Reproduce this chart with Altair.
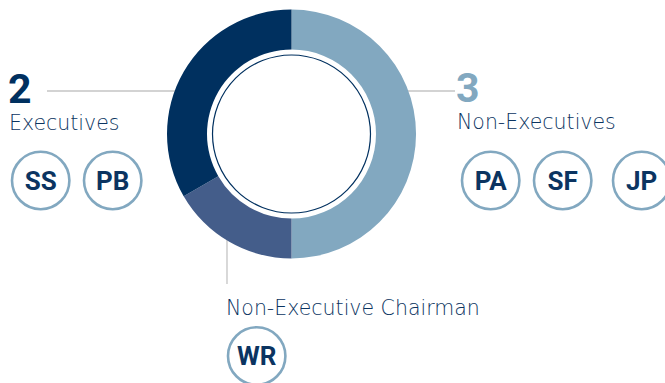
import altair as alt
import pandas as pd

# Board composition
groups = ["Non-Executives", "Non-Executive Chairman", "Executives"]
counts = [3, 1, 2]
exec_initials = ["SS", "PB"]
nonexec_initials = ["PA", "SF", "JP"]
chair_initials = ["WR"]

NAVY = "#00305f"
MID = "#445d8a"
LIGHT = "#82a8c0"
TEXT = "#0b3461"
GREY = "#c4c4c4"
FONT = "DejaVu Sans"
BOLD_FONT = "Roboto"

W, H = 665, 383
CX, CY = 291.5, 134
R_OUT, R_IN, R_LINE = 124.5, 84.5, 79
R_BADGE = 28.7

# badge centres (layout)
EXEC_X = [40.7, 112.7]
NONEXEC_X = [490.7, 562.7, 641.7]
CHAIR_X = [256.7]
ROW_Y = 180.5
CHAIR_Y = 356

donut_df = pd.DataFrame({"group": groups, "count": counts, "order": list(range(len(groups)))})

# Leader lines (drawn beneath the ring)
lines = [
    alt.Chart(pd.DataFrame({"a": [0]})).mark_rule(color=GREY, strokeWidth=1.3).encode(
        x=alt.value(47), x2=alt.value(200), y=alt.value(91)),
    alt.Chart(pd.DataFrame({"a": [0]})).mark_rule(color=GREY, strokeWidth=1.3).encode(
        x=alt.value(390), x2=alt.value(455), y=alt.value(91)),
    alt.Chart(pd.DataFrame({"a": [0]})).mark_rule(color=GREY, strokeWidth=1.3).encode(
        x=alt.value(227), y=alt.value(200), y2=alt.value(284)),
]

ring = alt.Chart(donut_df).mark_arc(innerRadius=R_IN, outerRadius=R_OUT, stroke=None).encode(
    theta=alt.Theta("count:Q", stack=True),
    order=alt.Order("order:Q"),
    color=alt.Color("group:N", scale=alt.Scale(domain=groups, range=[LIGHT, MID, NAVY]), legend=None),
    x=alt.value(CX), y=alt.value(CY),
)

# symbol size is the square of the diameter for circles
inner_circle = alt.Chart(pd.DataFrame({"a": [0]})).mark_point(
    shape="circle", filled=False, color=NAVY, strokeWidth=1.2, size=(2 * R_LINE) ** 2, opacity=1
).encode(x=alt.value(CX), y=alt.value(CY))

# Badges for each board member
badge_rows = []
for s, x in zip(exec_initials, EXEC_X):
    badge_rows.append({"label": s, "px": x, "py": ROW_Y})
for s, x in zip(nonexec_initials, NONEXEC_X):
    badge_rows.append({"label": s, "px": x, "py": ROW_Y})
for s, x in zip(chair_initials, CHAIR_X):
    badge_rows.append({"label": s, "px": x, "py": CHAIR_Y})
badges = pd.DataFrame(badge_rows)
badges["ty"] = badges["py"] + 9.3

badge_circles = alt.Chart(badges).mark_point(
    shape="circle", filled=False, color=LIGHT, strokeWidth=2.6, size=(2 * R_BADGE) ** 2, opacity=1
).encode(x=alt.X("px:Q", scale=None), y=alt.Y("py:Q", scale=None))

badge_text = alt.Chart(badges).mark_text(
    font=BOLD_FONT, fontSize=26, fontWeight="bold", color=TEXT, align="center", baseline="alphabetic"
).encode(x=alt.X("px:Q", scale=None), y=alt.Y("ty:Q", scale=None), text="label:N")

def label(text, x, y, size, weight, color, font):
    return alt.Chart(pd.DataFrame({"t": [text]})).mark_text(
        font=font, fontSize=size, fontWeight=weight, color=color, align="left", baseline="alphabetic"
    ).encode(x=alt.value(x), y=alt.value(y), text="t:N")

labels = [
    label(str(counts[2]), 8, 103, 41, "bold", NAVY, BOLD_FONT),
    label(groups[2], 9, 130, 20.5, 200, TEXT, FONT),
    label(str(counts[0]), 456, 102, 41, "bold", LIGHT, BOLD_FONT),
    label(groups[0], 457, 129, 20.5, 200, TEXT, FONT),
    label(groups[1], 226, 315, 20.5, 200, TEXT, FONT),
]

chart = alt.layer(*lines, ring, inner_circle, badge_circles, badge_text, *labels).properties(
    width=W, height=H, autosize="none", padding=0
).configure_view(stroke=None)

chart.save("out.html", embed_options={"renderer": "svg", "actions": False})
